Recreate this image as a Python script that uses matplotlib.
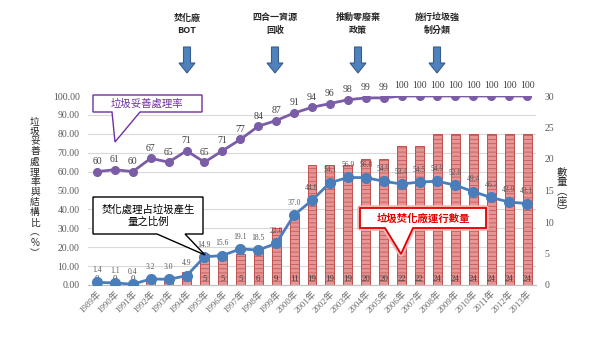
import matplotlib
matplotlib.use("Agg")
import matplotlib.pyplot as plt
from matplotlib.patches import Polygon, FancyArrow
import numpy as np

plt.rcParams['font.family'] = ['Liberation Serif', 'Noto Sans CJK TC', 'DejaVu Sans']
plt.rcParams['hatch.linewidth'] = 0.5
CJK = ['Noto Sans CJK TC', 'DejaVu Sans']

years = list(range(1989, 2014))
year_labels = [f"{y}年" for y in years]
rate = [60, 61, 60, 67, 65, 71, 65, 71, 77, 84, 87, 91, 94, 96, 98, 99, 99,
        100, 100, 100, 100, 100, 100, 100, 100]
incin_share = [1.4, 1.1, 0.4, 3.2, 3.0, 4.9, 14.9, 15.6, 19.1, 18.5, 22.0, 37.0,
               44.8, 54.1, 56.9, 56.8, 54.9, 53.4, 54.5, 54.9, 52.8, 49.4, 46.3,
               43.9, 43.1]
plants = [0, 0, 0, 1, 1, 2, 5, 5, 5, 6, 9, 11, 19, 19, 19, 20, 20, 22, 22,
          24, 24, 24, 24, 24, 24]

purple = '#7b5ca6'
blue = '#4a7ebb'
grey = '#595959'

fig = plt.figure(figsize=(6, 3.63), dpi=100)
ax = fig.add_axes([88 / 600, 1 - 285 / 363, 448 / 600, 189 / 363])
ax2 = ax.twinx()
ax.set_zorder(ax2.get_zorder() + 1)
ax.patch.set_visible(False)

x = np.arange(len(years))

# bars (right axis)
ax2.bar(x, plants, width=0.5, facecolor='#e59595', edgecolor='#c0504d',
        hatch='----', linewidth=0.7, zorder=2)
for xi, v in zip(x, plants):
    ax2.text(xi, 1.0, str(v), ha='center', va='center', fontsize=6.5,
             color='#404040', zorder=3)
ax2.set_ylim(0, 30)
ax2.set_yticks(np.arange(0, 31, 5))
ax2.set_yticks(np.arange(0, 31, 3), minor=True)
ax2.grid(which='minor', axis='y', color='#d9d9d9', linewidth=0.8, zorder=0)
ax2.tick_params(axis='y', which='both', length=0, labelsize=7, labelcolor=grey, pad=6)

# lines (left axis)
ax.plot(x, rate, color=purple, linewidth=2, marker='o', markersize=5.5, zorder=4)
ax.plot(x, incin_share, color=blue, linewidth=2, marker='o', markersize=7, zorder=4)
for xi, v in zip(x, rate):
    ax.annotate(str(v), (xi, v), xytext=(0, 4), textcoords='offset points',
                ha='center', va='bottom', fontsize=7, color='#404040')
for xi, v in zip(x, incin_share):
    ax.annotate(f"{v:.1f}", (xi, v), xytext=(0, 6), textcoords='offset points',
                ha='center', va='bottom', fontsize=5.5, color='#595959')

ax.set_xlim(-0.5, len(years) - 0.5)
ax.set_ylim(0, 100)
ax.set_yticks(np.arange(0, 101, 10))
ax.set_yticklabels([f"{v:.2f}" for v in np.arange(0, 101, 10)])
ax.tick_params(axis='y', length=0, labelsize=7, labelcolor=grey, pad=6)
ax.set_xticks(x)
ax.set_xticklabels(year_labels, rotation=45, ha='right', rotation_mode='anchor',
                   fontsize=6.5, color='#6a6a6a')
ax.tick_params(axis='x', length=0, pad=3)
for a in (ax, ax2):
    for s in ('top', 'left', 'right'):
        a.spines[s].set_visible(False)
    a.spines['bottom'].set_color('#bfbfbf')

# axis titles (vertical stacked)
fig.text(35 / 600, 1 - 187 / 363, "\n".join("垃圾妥善處理率與結構比︵%︶"),
         ha='center', va='center', fontsize=7, linespacing=1.02,
         family=CJK, color='#262626')
fig.text(562 / 600, 1 - 192 / 363, "\n".join("數量︵座︶"),
         ha='center', va='center', fontsize=7.5, linespacing=1.0,
         family=CJK, color='#262626')

# overlay in pixel coordinates for callouts and arrows
ov = fig.add_axes([0, 0, 1, 1], zorder=10)
ov.set_xlim(0, 600)
ov.set_ylim(363, 0)
ov.axis('off')

events = [("焚化廠\nBOT", 187), ("四合一資源\n回收", 275),
          ("推動零廢棄\n政策", 358), ("施行垃圾強\n制分類", 437)]
for label, ex in events:
    ov.text(ex, 24, label, ha='center', va='center', fontsize=6.5,
            fontweight='bold', family=CJK, linespacing=1.5, color='#262626')
    ov.add_patch(FancyArrow(ex, 47, 0, 26, width=7, head_width=16,
                            head_length=10, length_includes_head=True,
                            facecolor='#4f81bd', edgecolor='#385d8a', linewidth=0.8))

# purple callout
ov.add_patch(Polygon([(93, 95), (202, 95), (202, 112), (140, 112), (115, 142),
                      (112, 112), (93, 112)], closed=True, facecolor='white',
                     edgecolor='#7030a0', linewidth=1))
ov.text(147, 103.5, "垃圾妥善處理率", ha='center', va='center', fontsize=7.5,
        color='#7030a0', family=CJK)

# black callout
ov.add_patch(Polygon([(93, 197), (203, 197), (203, 234), (185, 234), (205, 255),
                      (157, 234), (93, 234)], closed=True, facecolor='white',
                     edgecolor='black', linewidth=1))
ov.text(148, 215.5, "焚化處理占垃圾產生\n量之比例", ha='center', va='center',
        fontsize=7.5, color='black', family=CJK, linespacing=1.3)

# red callout
red_shape = [(360, 208), (486, 208), (486, 228), (413, 228), (401, 254),
             (385, 228), (360, 228)]
ov.add_patch(Polygon(red_shape, closed=True, facecolor='none',
                     edgecolor='#f4b6b6', linewidth=4, joinstyle='round'))
ov.add_patch(Polygon(red_shape, closed=True, facecolor='white',
                     edgecolor='#e00000', linewidth=1.3))
ov.text(423, 218, "垃圾焚化廠運行數量", ha='center', va='center', fontsize=7.5,
        color='#e00000', fontweight='bold', family=CJK)

fig.savefig('out.png', dpi=100)
